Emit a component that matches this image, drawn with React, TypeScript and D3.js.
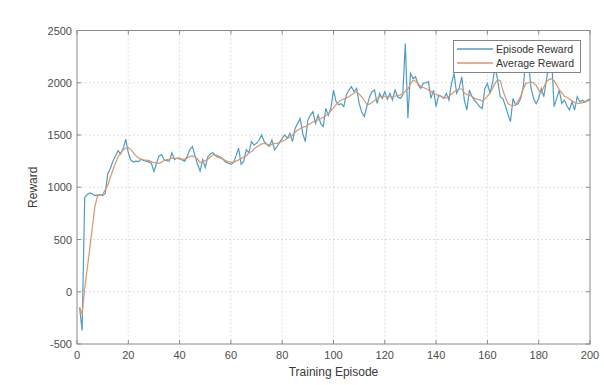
import React from "react";
import * as d3 from "d3";

// Training curve values (episodes 1..200)
const episodeReward = [
  -150, -370, 900, 930, 945, 935, 920, 925, 930, 920,
  940, 1130, 1180, 1250, 1300, 1350, 1320, 1370, 1460, 1330,
  1260, 1240, 1250, 1245, 1270, 1255, 1250, 1240, 1230, 1150,
  1230, 1300, 1310, 1260, 1255, 1250, 1330, 1265, 1280, 1280,
  1260, 1250, 1300, 1360, 1390, 1300, 1220, 1155, 1265, 1190,
  1290, 1320, 1330, 1300, 1285, 1280, 1265, 1240, 1230, 1220,
  1235, 1300, 1375, 1220, 1250, 1360, 1330, 1436, 1405, 1420,
  1452, 1500, 1436, 1410, 1390, 1452, 1357, 1390, 1430, 1468,
  1500, 1468, 1516, 1436, 1560, 1611, 1659, 1516, 1436, 1643,
  1690, 1723, 1611, 1690, 1611, 1580, 1755, 1690, 1760, 1930,
  1820, 1790, 1800, 1771, 1882, 1930, 1962, 1914, 1946, 1803,
  1720, 1676, 1771, 1860, 1914, 1930, 1803, 1898, 1850, 1914,
  1841, 1898, 1834, 1930, 1866, 1850, 1880, 2375, 1660, 2090,
  2040, 2057, 1978, 1946, 1994, 2000, 2010, 1850, 1930, 1771,
  1882, 1870, 1850, 1898, 1834, 1994, 2090, 1900, 1946, 2057,
  1834, 1739, 1930, 1866, 1830, 1803, 1771, 1755, 1946, 1994,
  1898, 2000, 2150, 2025, 1866, 1850, 1780, 1700, 1628, 1850,
  1787, 1800, 1850, 1962, 2250, 2200, 1950, 1850, 1800, 1850,
  1946, 1866, 2025, 2180, 2250, 1771, 1850, 1930, 1803, 1834,
  1780, 1739, 1818, 1739, 1866, 1818, 1830, 1818, 1834, 1845,
];

const averageReward = [
  -150, -207, 30, 220, 420, 620, 820, 916, 925, 930,
  975, 1020, 1095, 1165, 1230, 1292, 1330, 1356, 1375, 1380,
  1360, 1330, 1300, 1280, 1265, 1262, 1260, 1255, 1245, 1235,
  1232, 1229, 1240, 1255, 1265, 1270, 1278, 1280, 1275, 1270,
  1270, 1270, 1280, 1295, 1300, 1290, 1270, 1235, 1240, 1255,
  1268, 1290, 1310, 1310, 1300, 1290, 1270, 1252, 1245, 1240,
  1240, 1250, 1262, 1272, 1290, 1300, 1330, 1340, 1365, 1385,
  1400, 1415, 1420, 1412, 1405, 1410, 1418, 1420, 1430, 1440,
  1452, 1468, 1480, 1500, 1525, 1548, 1560, 1575, 1580, 1595,
  1611, 1625, 1640, 1645, 1655, 1670, 1685, 1705, 1730, 1760,
  1790, 1815, 1835, 1845, 1855, 1866, 1885, 1900, 1914, 1890,
  1866, 1830, 1790, 1795, 1810, 1830, 1850, 1866, 1870, 1866,
  1866, 1868, 1866, 1872, 1880, 1882, 1895, 1920, 1940, 1985,
  2025, 2015, 1990, 1965, 1955, 1945, 1930, 1915, 1900, 1890,
  1875, 1866, 1860, 1855, 1870, 1890, 1914, 1925, 1940, 1940,
  1905, 1885, 1880, 1870, 1850, 1842, 1836, 1825, 1845, 1870,
  1900, 1945, 1994, 2030, 2020, 1930, 1860, 1800, 1787, 1780,
  1790, 1830, 1870, 1940, 1994, 2000, 2005, 2000, 1975, 1930,
  1905, 1960, 2010, 2030, 2040, 2020, 1980, 1935, 1905, 1870,
  1862, 1845, 1825, 1810, 1805, 1803, 1810, 1815, 1825, 1834,
];

const xTicks = [0, 20, 40, 60, 80, 100, 120, 140, 160, 180, 200];
const yTicks = [-500, 0, 500, 1000, 1500, 2000, 2500];
const seriesNames = ["Episode Reward", "Average Reward"];
const seriesColors = ["#4f9dc4", "#d9966b"];

const width = 604;
const height = 385;
const margin = { top: 30.5, right: 14, bottom: 41, left: 77 };
const font = "'Liberation Sans', Arial, sans-serif";

export default function App() {
  const x = d3
    .scaleLinear()
    .domain([0, 200])
    .range([margin.left, width - margin.right]);
  const y = d3
    .scaleLinear()
    .domain([-500, 2500])
    .range([height - margin.bottom, margin.top]);

  const line = d3
    .line<number>()
    .x((_, i) => x(i + 1))
    .y((d) => y(d));

  const [x0, x1] = x.range();
  const [y0, y1] = y.range();

  return (
    <svg
      width={width}
      height={height}
      style={{ position: "absolute", left: 0, top: 0, background: "#fff" }}
      fontFamily={font}
    >
      {/* grid */}
      <g stroke="#d6d6d6" strokeWidth={0.8} strokeDasharray="2,2">
        {xTicks.slice(1, -1).map((t) => (
          <line key={"gx" + t} x1={x(t)} x2={x(t)} y1={y1} y2={y0} />
        ))}
        {yTicks.slice(1, -1).map((t) => (
          <line key={"gy" + t} x1={x0} x2={x1} y1={y(t)} y2={y(t)} />
        ))}
      </g>

      {/* series */}
      <path d={line(episodeReward) ?? ""} fill="none" stroke={seriesColors[0]} strokeWidth={1.2} />
      <path d={line(averageReward) ?? ""} fill="none" stroke={seriesColors[1]} strokeWidth={1.2} />

      {/* box and ticks */}
      <rect x={x0} y={y1} width={x1 - x0} height={y0 - y1} fill="none" stroke="#8a8a8a" strokeWidth={1} />
      <g stroke="#8a8a8a" strokeWidth={1}>
        {xTicks.map((t) => (
          <g key={"tx" + t}>
            <line x1={x(t)} x2={x(t)} y1={y0} y2={y0 - 4} />
            <line x1={x(t)} x2={x(t)} y1={y1} y2={y1 + 4} />
          </g>
        ))}
        {yTicks.map((t) => (
          <g key={"ty" + t}>
            <line x1={x0} x2={x0 + 4} y1={y(t)} y2={y(t)} />
            <line x1={x1} x2={x1 - 4} y1={y(t)} y2={y(t)} />
          </g>
        ))}
      </g>

      {/* tick labels */}
      <g fontSize={11} fill="#4d4d4d">
        {xTicks.map((t) => (
          <text key={"lx" + t} x={x(t)} y={y0 + 15} textAnchor="middle">
            {t}
          </text>
        ))}
        {yTicks.map((t) => (
          <text key={"ly" + t} x={x0 - 5} y={y(t) + 4} textAnchor="end">
            {t}
          </text>
        ))}
      </g>

      {/* axis titles */}
      <text x={(x0 + x1) / 2} y={y0 + 32} textAnchor="middle" fontSize={12} fill="#3a3a3a">
        Training Episode
      </text>
      <text
        transform={`translate(${x0 - 40},${(y0 + y1) / 2}) rotate(-90)`}
        textAnchor="middle"
        fontSize={12}
        fill="#3a3a3a"
      >
        Reward
      </text>

      {/* legend */}
      <g>
        <rect x={453.5} y={40.5} width={127} height={32} fill="#fff" stroke="#666" strokeWidth={0.8} />
        {seriesNames.map((name, i) => (
          <g key={name}>
            <line
              x1={457}
              x2={493}
              y1={49 + i * 14}
              y2={49 + i * 14}
              style={{ stroke: seriesColors[i], strokeWidth: 1.5 }}
            />
            <text x={496} y={53 + i * 14} fontSize={10.5} fill="#333">
              {name}
            </text>
          </g>
        ))}
      </g>
    </svg>
  );
}
